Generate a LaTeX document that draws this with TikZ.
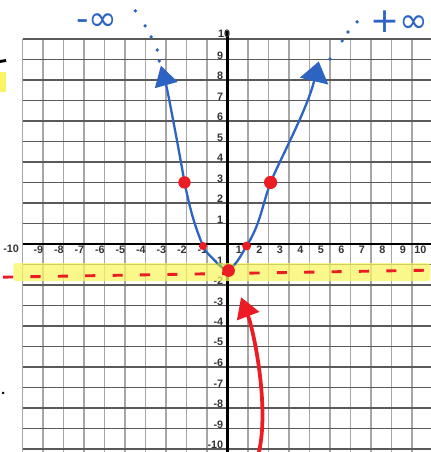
\documentclass[tikz,border=0pt]{standalone}
\usepackage{fontspec}
\setmainfont{Liberation Sans}
\newfontfamily\handfont{DejaVu Sans}
\usetikzlibrary{arrows.meta}
\definecolor{penblue}{RGB}{45,100,195}
\definecolor{penred}{RGB}{236,28,36}
\definecolor{marker}{RGB}{248,244,100}
\definecolor{pengreen}{RGB}{140,180,90}
\begin{document}
\begin{tikzpicture}[x=0.5cm, y=0.5cm,
  every node/.style={font=\bfseries\fontsize{7.5}{8}\selectfont, text=black!80, inner sep=0pt},
  hline/.style={black!65, line width=1.1pt},
  vline/.style={black!35, line width=1.3pt},
  blueink/.style={penblue, line width=1.6pt, line cap=round},
  redink/.style={penred, line width=2.6pt, line cap=round},
  infty/.style={text=penblue, font=\handfont\fontsize{24}{24}\selectfont}]
  \useasboundingbox (-11.1,-10.15) rectangle (9.88,11.9);
  % grid and axes
  \foreach \x in {-10,...,10} \draw[vline] (\x,-10.2) -- (\x,10);
  \foreach \y in {-10,...,10} \draw[hline] (-10,\y) -- (10,\y);
  \draw[black, line width=1.8pt] (-10,0) -- (10,0);
  \draw[black, line width=1.8pt] (0,-10.2) -- (0,10.4);
  \foreach \n in {-9,...,-1} \node[anchor=east] (xl\n) at (\n+0.02,-0.3) {\n};
  \foreach \n in {1,...,10} \node[anchor=east] (xl\n) at (\n-0.28,-0.3) {\n};
  \node (xlm10) at (-10.56,-0.25) {-10};
  \foreach \n in {-10,...,-1,1,2,...,9} \node[anchor=east] (yl\n) at (-0.2,\n+0.2) {\n};
  \node (yl10) at (-0.17,10.27) {10};
  % highlighted asymptote
  \fill[marker, opacity=0.75, rounded corners=2pt] (-10.45,-0.93) rectangle (9.9,-1.81);
  \draw[penred, line width=2pt, dash pattern=on 7pt off 12pt] (-10.95,-1.62) -- (9.9,-1.28);
  % curve
  \coordinate (ltip) at (-3.25,8.7);
  \coordinate (lhi) at (-2.1,3);
  \coordinate (llo) at (-1.2,-0.1);
  \coordinate (lgr) at (-0.5,-0.95);
  \coordinate (vtx) at (0.05,-1.3);
  \coordinate (rgr) at (0.35,-1.0);
  \coordinate (rlo) at (0.93,-0.1);
  \coordinate (rhi) at (2.1,3);
  \coordinate (rtip) at (4.45,8.9);
  \draw[blueink, -{Triangle[width=16pt,length=14pt]}] (lhi) .. controls (-2.35,4.5) and (-2.95,7.6) .. (ltip);
  \draw[blueink, -{Triangle[width=20pt,length=14pt]}] (rhi) .. controls (2.55,4.1) and (3.9,6.6) .. (rtip);
  \draw[blueink] (lhi) to[out=-78,in=112] (llo) to[out=-68,in=128] (lgr);
  \draw[pengreen, line width=1.6pt] (lgr) to[out=-40,in=165] (vtx) to[out=35,in=-135] (rgr);
  \draw[blueink] (rgr) to[out=50,in=-122] (rlo) to[out=58,in=-110] (rhi);
  \foreach \p in {(-4.5,11.37),(-4.02,10.64),(-3.73,10.1),(-3.43,9.46),(-3.33,8.92)} \fill[penblue] \p circle (1.3pt);
  \foreach \p in {(5.0,9.02),(5.59,9.9),(5.88,10.34),(6.32,10.83)} \fill[penblue] \p circle (1.3pt);
  \node[infty] (minf) at (-6.37,10.83) {-∞};
  \node[infty] (pinf) at (8.37,10.83) {+∞};
  \fill[penred] (lhi) circle (4.3pt);
  \fill[penred] (rhi) circle (4.6pt);
  \fill[penred] (llo) circle (2.8pt);
  \fill[penred] (rlo) circle (3.1pt);
  \fill[penred] (vtx) circle (4.4pt);
  % red arrow from below
  \coordinate (rbot) at (1.52,-10.2);
  \coordinate (rtop) at (0.66,-2.6);
  \draw[redink, -{Triangle[width=16pt,length=14pt]}] (rbot) .. controls (2.05,-8) and (1.3,-4.3) .. (rtop);
  % cut-off marks at the left edge
  \draw[black, line width=2pt] (-11.1,8.9) -- (-10.8,8.95);
  \fill[marker] (-11.1,8.39) rectangle (-10.8,7.41);
  \fill[black] (-10.95,-7.27) circle (1pt);
\end{tikzpicture}
\end{document}
